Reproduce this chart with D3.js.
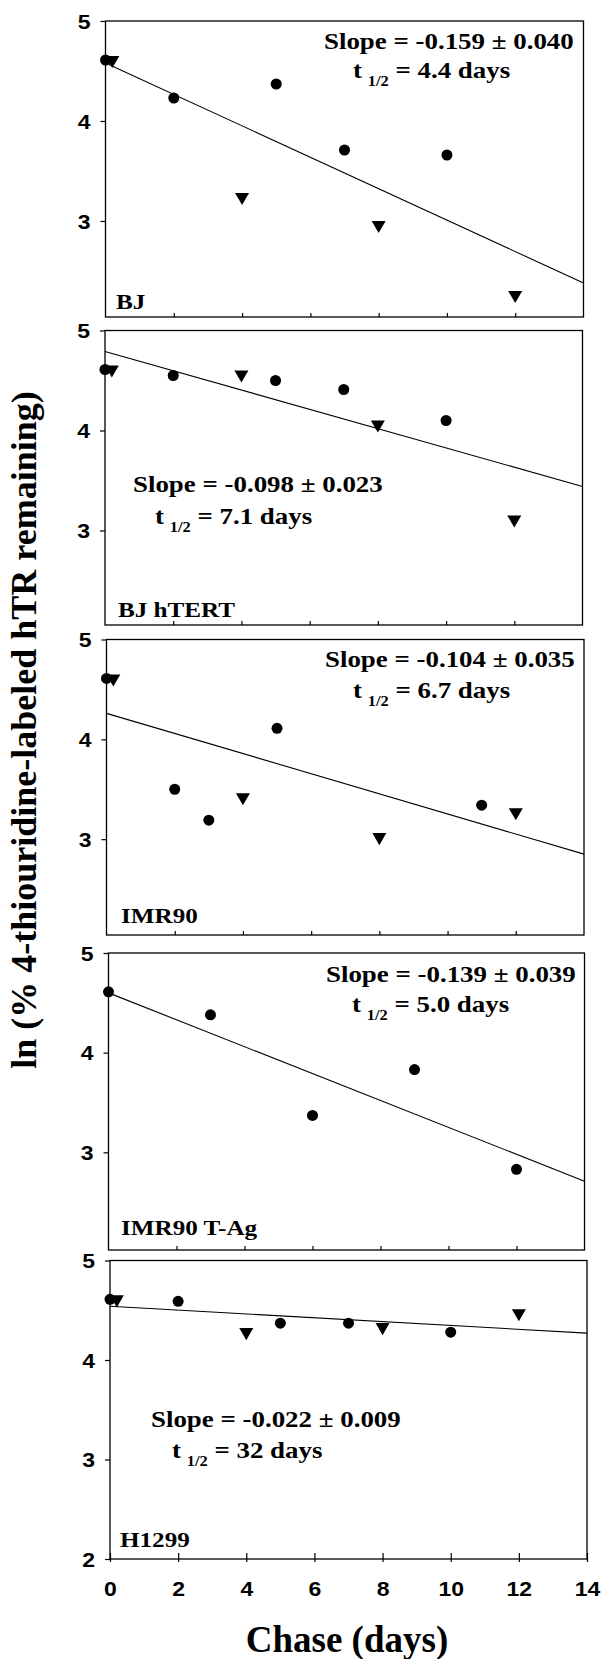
<!DOCTYPE html>
<html><head><meta charset="utf-8">
<script src="https://cdn.jsdelivr.net/npm/d3@7"></script>
<style>body{margin:0;background:#fff}</style>
</head><body>
<svg id="c" width="602" height="1659"></svg>
<script>
// ---------- data ----------
const cellLines = ["BJ", "BJ hTERT", "IMR90", "IMR90 T-Ag", "H1299"];
const circleDays   = [[0,2,5,7,10],[0,2,5,7,10],[0,2,3,5,11],[0,3,6,9,12],[0,2,5,7,10]];
const circleValues = [[4.61,4.23,4.37,3.71,3.66],[4.61,4.55,4.50,4.41,4.10],[4.61,3.50,3.19,4.11,3.34],[4.61,4.38,3.37,3.83,2.83],[4.61,4.59,4.37,4.37,4.28]];
const triangleDays   = [[0.2,4,8,12],[0.2,4,8,12],[0.2,4,8,12],[],[0.2,4,8,12]];
const triangleValues = [[4.61,3.24,2.96,2.26],[4.61,4.56,4.06,3.11],[4.61,3.42,3.02,3.27],[],[4.61,4.28,4.33,4.47]];
const fitStart = [4.58, 4.79, 4.26, 4.60, 4.54];   // fitted ln value at day 0
const fitEnd   = [2.38, 3.44, 2.85, 2.71, 4.27];   // fitted ln value at day 14
const slopeValues = ["-0.159", "-0.098", "-0.104", "-0.139", "-0.022"];
const slopeErrors = ["0.040", "0.023", "0.035", "0.039", "0.009"];
const halfLives = ["4.4 days", "7.1 days", "6.7 days", "5.0 days", "32 days"];
const xTicks = [0, 2, 4, 6, 8, 10, 12, 14];
const yTicks = [[5,4,3],[5,4,3],[5,4,3],[5,4,3],[5,4,3,2]];
const xDomain = [0, 14];
const yDomains = [[2.04,5],[2.055,5],[2.04,5],[2.02,5],[2,5]];

// ---------- layout ----------
const layout = [
  {l:105.5, r:583.5, t:21,    b:317,  sx:324, sy:49,   tx:353, ty:78,   lx:116, ly:309},
  {l:105,   r:582.5, t:330.5, b:625,  sx:133, sy:492,  tx:155, ty:524,  lx:118, ly:617},
  {l:106.5, r:584,   t:639.5, b:935,  sx:325, sy:667,  tx:353, ty:698,  lx:121, ly:923},
  {l:108.5, r:584.5, t:953,   b:1250, sx:326, sy:982,  tx:352, ty:1012, lx:121, ly:1235},
  {l:110,   r:587,   t:1260.5,b:1559, sx:151, sy:1427, tx:172, ty:1458, lx:120, ly:1547}
];
const SANS = "'Liberation Sans', Arial, sans-serif";
const SERIF = "'Liberation Serif', 'Times New Roman', serif";
const STRETCH = 1.17;
const TSTRETCH = 1.15;

const svg = d3.select("#c");

cellLines.forEach((name, i) => {
  const L = layout[i];
  const x = d3.scaleLinear().domain(xDomain).range([L.l, L.r]);
  const y = d3.scaleLinear().domain(yDomains[i]).range([L.b, L.t]);
  const g = svg.append("g");

  // frame
  g.append("rect").attr("x", L.l).attr("y", L.t).attr("width", L.r - L.l).attr("height", L.b - L.t)
    .attr("fill", "none").attr("stroke", "#000").attr("stroke-width", 1.3);

  // y axis
  const ya = g.append("g").attr("transform", `translate(${L.l},0)`)
    .call(d3.axisLeft(y).tickValues(yTicks[i]).tickSize(5).tickFormat(d3.format("d")));
  ya.select(".domain").remove();
  ya.selectAll(".tick line").attr("stroke", "#000").attr("stroke-width", 1.2);
  ya.selectAll(".tick text")
    .attr("font-family", SANS).attr("font-weight", "bold").attr("font-size", 20)
    .attr("fill", "#000").attr("x", -15 / TSTRETCH).attr("dy", "0.36em")
    .attr("transform", `scale(${TSTRETCH},1)`);

  // x axis
  const last = i === cellLines.length - 1;
  const xa = g.append("g").attr("transform", `translate(0,${L.b})`)
    .call(d3.axisBottom(x).tickValues(last ? xTicks : xTicks.slice(1, -1))
      .tickSizeInner(last ? 3 : -4).tickSizeOuter(0)
      .tickFormat(last ? d3.format("d") : ""));
  xa.select(".domain").remove();
  xa.selectAll(".tick line").attr("stroke", "#000").attr("stroke-width", 1.2);
  if (last) {
    const xa2 = g.append("g").attr("transform", `translate(0,${L.b})`)
      .call(d3.axisBottom(x).tickValues(xTicks).tickSizeInner(-6).tickSizeOuter(0).tickFormat(""));
    xa2.select(".domain").remove();
    xa2.selectAll(".tick line").attr("stroke", "#000").attr("stroke-width", 1.2);
    xa.selectAll(".tick text")
      .attr("font-family", SANS).attr("font-weight", "bold").attr("font-size", 20)
      .attr("fill", "#000").attr("y", 37).attr("dy", "0").attr("x", 0)
      .attr("transform", `scale(${TSTRETCH},1)`);
  }

  // fit line
  g.append("path")
    .attr("d", d3.line().x(d => x(d[0])).y(d => y(d[1]))([[xDomain[0], fitStart[i]], [xDomain[1], fitEnd[i]]]))
    .attr("fill", "none").attr("stroke", "#000").attr("stroke-width", 1.1);

  // circles
  const circ = d3.symbol().type(d3.symbolCircle).size(Math.PI * 5.5 * 5.5);
  g.selectAll(".c").data(circleDays[i].map((d, k) => [d, circleValues[i][k]])).join("path")
    .attr("d", circ).attr("fill", "#000")
    .attr("transform", d => `translate(${x(d[0])},${y(d[1])})`);

  // inverted triangles
  const tri = d3.symbol().type(d3.symbolTriangle).size(85);
  g.selectAll(".t").data(triangleDays[i].map((d, k) => [d, triangleValues[i][k]])).join("path")
    .attr("d", tri).attr("fill", "#000")
    .attr("transform", d => `translate(${x(d[0])},${y(d[1])}) rotate(180)`);

  // annotations
  g.append("text").attr("transform", `translate(${L.sx},${L.sy}) scale(${STRETCH},1)`)
    .attr("font-family", SERIF).attr("font-weight", "bold").attr("font-size", 23).attr("fill", "#000")
    .text(`Slope = ${slopeValues[i]} ± ${slopeErrors[i]}`);
  const t = g.append("text").attr("transform", `translate(${L.tx},${L.ty}) scale(${STRETCH},1)`)
    .attr("font-family", SERIF).attr("font-weight", "bold").attr("font-size", 23).attr("fill", "#000");
  t.append("tspan").text("t");
  t.append("tspan").attr("dx", 5).attr("dy", 8).attr("font-size", 14).text("1/2");
  t.append("tspan").attr("dy", -8).text(" = " + halfLives[i]);

  g.append("text").attr("transform", `translate(${L.lx},${L.ly}) scale(${STRETCH},1)`)
    .attr("font-family", SERIF).attr("font-weight", "bold").attr("font-size", 21.5).attr("fill", "#000")
    .text(name);
});

// axis titles
svg.append("text").attr("transform", "translate(36,730) rotate(-90)")
  .attr("text-anchor", "middle").attr("font-family", SERIF).attr("font-weight", "bold")
  .attr("font-size", 36).attr("fill", "#000")
  .text("ln (% 4-thiouridine-labeled hTR remaining)");
svg.append("text").attr("x", 347).attr("y", 1652)
  .attr("text-anchor", "middle").attr("font-family", SERIF).attr("font-weight", "bold")
  .attr("font-size", 37).attr("fill", "#000")
  .text("Chase (days)");
</script>
</body></html>
